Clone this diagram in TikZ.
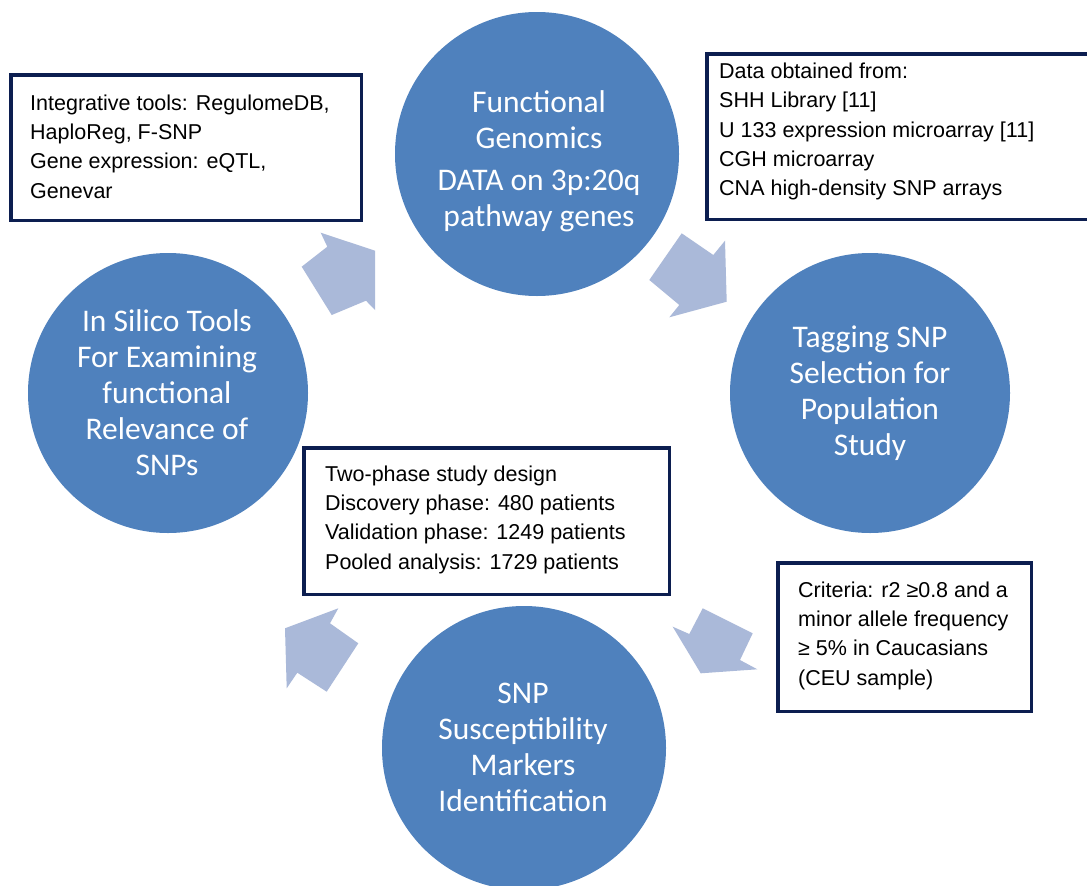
\documentclass[tikz,border=0pt]{standalone}
\usepackage{fontspec}
\setmainfont{Liberation Sans}
\newfontfamily\circfont{Carlito}
\definecolor{circblue}{HTML}{4F81BD}
\definecolor{arrowblue}{HTML}{AAB9D9}
\definecolor{boxnavy}{HTML}{0C1E50}
\begin{document}
\begin{tikzpicture}[x=1pt,y=-1pt,
  stage/.style={circle, fill=circblue, inner sep=0pt},
  stagetext/.style={text=white, font=\circfont\fontsize{31.5}{36}\selectfont, align=center, inner sep=0pt},
  infobox/.style={draw=boxnavy, line width=3.5pt, inner sep=0pt, fill=white},
  infotext/.style={font=\fontsize{21.5}{29.3}\selectfont, align=left, anchor=west, inner sep=0pt},
  cyclearrow/.style={fill=arrowblue}
]
\clip (0,0) rectangle (1087,886);
\fill[white] (0,0) rectangle (1087,886);

% stages
\node[stage, minimum size=284pt] (genomics) at (537,154) {};
\node[stage, minimum size=280pt] (tagging) at (870,393) {};
\node[stage, minimum size=280pt] (insilico) at (168,393) {};
\node[stage, minimum size=284pt] (susc) at (524,748) {};

\node[stagetext] (genomicsT) at (539,161.5) {Functional\\Genomics\\[6pt]DATA on 3p:20q\\pathway genes};
\node[stagetext] (taggingT) at (870,393) {Tagging SNP\\Selection for\\Population\\Study};
\node[stagetext] (insilicoT) at (167,393) {In Silico Tools\\For Examining\\functional\\Relevance of\\SNPs};
\node[stagetext] (suscT) at (523,747) {SNP\\Susceptibility\\Markers\\Identification};

% cycle arrows
\fill[cyclearrow] (320.7,232.7) -- (375,250.7) -- (375,310) -- (366,300.7) -- (331.7,315) -- (301.7,266.7) -- (327.3,246.7) -- cycle;
\fill[cyclearrow] (681.7,233.3) -- (713.3,255) -- (725,240.7) -- (726.7,301.7) -- (669.3,317.3) -- (679.3,305) -- (649.3,280) -- cycle;
\fill[cyclearrow] (702.7,608.3) -- (752.7,633.3) -- (740,660) -- (757.3,669.3) -- (700.7,673.3) -- (672.7,626.7) -- (689.3,634) -- cycle;
\fill[cyclearrow] (338.3,608.3) -- (285,628.3) -- (286.7,688.3) -- (297.3,672.7) -- (326.7,691.7) -- (358.3,643.3) -- (330,623.3) -- cycle;

% info boxes
\node[infobox, minimum width=350.5pt, minimum height=145.5pt] (toolsbox) at (186,147.5) {};
\node[infobox, minimum width=388.25pt, minimum height=165.5pt] (databox) at (900.9,136.5) {};
\node[infobox, minimum width=365.5pt, minimum height=146.5pt] (studybox) at (486.5,521) {};
\node[infobox, minimum width=253.5pt, minimum height=148.5pt] (critbox) at (904.5,637) {};

\node[infotext] (toolsT) at (30,146.5) {Integrative tools: RegulomeDB,\\HaploReg, F-SNP\\Gene expression: eQTL,\\Genevar};
\node[infotext] (dataT) at (719,131.5) {Data obtained from:\\SHH Library [11]\\U 133 expression microarray [11]\\CGH microarray\\CNA high-density SNP arrays};
\node[infotext] (studyT) at (325,519.5) {Two-phase study design\\Discovery phase: 480 patients\\Validation phase: 1249 patients\\Pooled analysis: 1729 patients};
\node[infotext] (critT) at (798,635.5) {Criteria: r2 ≥0.8 and a\\minor allele frequency\\≥ 5\% in Caucasians\\(CEU sample)};
\end{tikzpicture}
\end{document}
